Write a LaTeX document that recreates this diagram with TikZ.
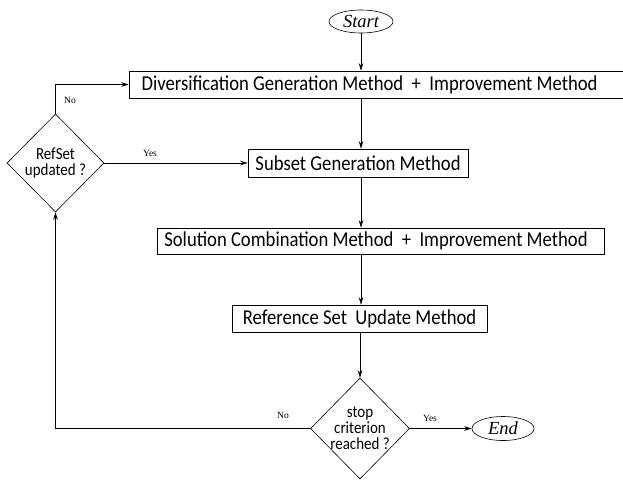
\documentclass[tikz,border=0pt]{standalone}
\usepackage{fontspec}
\setmainfont{Liberation Serif}
\newfontfamily\boxfont[FakeStretch=0.88]{Carlito}
\usetikzlibrary{shapes.geometric,arrows.meta}
\begin{document}
\begin{tikzpicture}[x=1pt,y=-1pt, line width=0.6pt,
  procbox/.style={draw, inner sep=0pt, font=\boxfont\fontsize{21.2}{22}\selectfont},
  decision/.style={draw, diamond, inner sep=0pt, align=center, font=\boxfont\fontsize{17}{16}\selectfont},
  terminal/.style={draw, ellipse, inner sep=0pt, font=\itshape\fontsize{18.5}{18.5}\selectfont},
  flow/.style={-{Stealth[length=7.5pt,width=4.5pt]}},
  lbl/.style={font=\fontsize{9.5}{9.5}\selectfont, inner sep=0pt}]
\useasboundingbox (0,0) rectangle (623,480);
\coordinate (spine) at (361,0);
\node[terminal, minimum width=64, minimum height=23] (start) at (361,21.5) {Start};
\node[procbox, minimum width=494, minimum height=27] (box1) at (376,84.5) {Diversification Generation Method\ \ +\ \ Improvement Method\hspace*{13pt}};
\node[procbox, minimum width=220, minimum height=28] (box2) at (358,163) {Subset Generation Method};
\node[procbox, minimum width=447, minimum height=26] (box3) at (380.5,241) {Solution Combination Method\ \ +\ \ Improvement Method\hspace*{9pt}};
\node[procbox, minimum width=255, minimum height=27] (box4) at (359.5,318.5) {Reference Set\ \ Update Method};
\node[decision, minimum width=97, minimum height=98] (ref) at (55.5,163) {\makebox[0pt]{RefSet}\\\makebox[0pt]{updated ?}};
\node[decision, minimum width=99, minimum height=101] (stop) at (360,428.5) {\makebox[0pt]{stop}\\\makebox[0pt]{criterion}\\\makebox[0pt]{reached ?}};
\node[terminal, minimum width=62, minimum height=24] (end) at (503,428.5) {End};
\node[lbl] (noref) at (70,100) {No};
\node[lbl] (yesref) at (150,153) {Yes};
\node[lbl] (nostop) at (283,415) {No};
\node[lbl] (yesstop) at (430,418) {Yes};
\draw[flow] (start) -- (start |- box1.north);
\draw[flow] (box1.south -| spine) -- (box2.north -| spine);
\draw[flow] (box2.south -| spine) -- (box3.north -| spine);
\draw[flow] (box3.south -| spine) -- (box4.north -| spine);
\draw[flow] (box4.south -| stop) -- (stop.north);
\draw[flow] (stop.east) -- (end.west);
\draw[flow] (stop.west) -| (ref.south);
\draw[flow] (ref.east) -- (ref.east -| box2.west);
\draw[flow] (ref.north) |- (box1.west);
\end{tikzpicture}
\end{document}
